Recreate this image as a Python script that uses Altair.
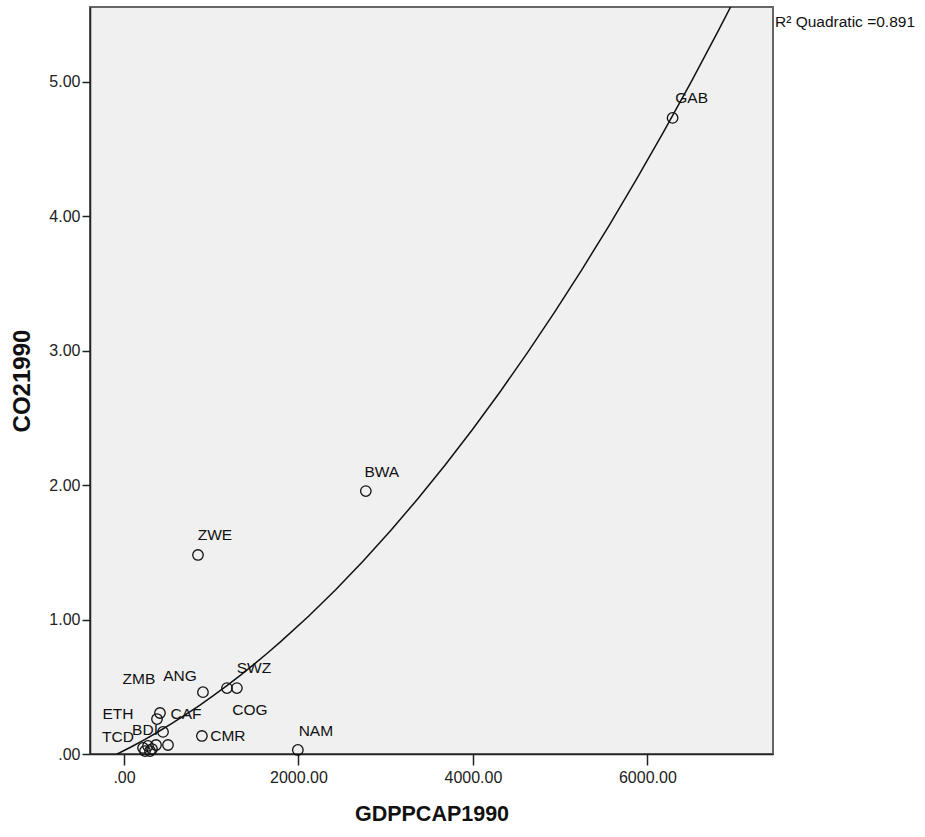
import altair as alt
import pandas as pd

# Country codes, GDP per capita (1990) and CO2 per capita (1990)
codes = ["GAB", "BWA", "ZWE", "NAM", "SWZ", "COG", "ANG", "CMR", "ZMB", "CAF",
         "ETH", "TCD", "BDI", "", "", "", "", ""]
gdppcap1990 = [6289, 2772, 848, 1993, 1294, 1180, 905, 893, 412, 447,
               218, 241, 321, 378, 504, 275, 367, 298]
co21990 = [4.73, 1.955, 1.48, 0.03, 0.49, 0.49, 0.46, 0.134, 0.305, 0.164,
           0.045, 0.022, 0.037, 0.26, 0.067, 0.06, 0.067, 0.022]

r2_text = "R\u00b2 Quadratic =0.891"

df = pd.DataFrame({"code": codes, "GDPPCAP1990": gdppcap1990, "CO21990": co21990})

FONT = "Liberation Sans"
W, H = 683, 747
x_dom = [-390, 7440]
y_dom = [0, 5.555]

x_enc = alt.X("GDPPCAP1990:Q",
              scale=alt.Scale(domain=x_dom, nice=False, zero=False),
              axis=alt.Axis(values=[0, 2000, 4000, 6000],
                            labelExpr="datum.value == 0 ? '.00' : format(datum.value, '.2f')",
                            title="GDPPCAP1990", titlePadding=18, labelPadding=4,
                            tickSize=11, titleFontSize=21.5))
y_enc = alt.Y("CO21990:Q",
              scale=alt.Scale(domain=y_dom, nice=False),
              axis=alt.Axis(values=[0, 1, 2, 3, 4, 5],
                            labelExpr="datum.value == 0 ? '.00' : format(datum.value, '.2f')",
                            title="CO21990", titlePadding=14, labelPadding=2,
                            tickSize=8, titleFontSize=24))

base = alt.Chart(df)

points = base.mark_point(shape="circle", filled=False, color="#111",
                         size=110, strokeWidth=1.3, opacity=1).encode(x=x_enc, y=y_enc)

fit = base.transform_regression(
    "GDPPCAP1990", "CO21990", method="poly", order=2, extent=x_dom
).mark_line(color="#111", strokeWidth=1.5, clip=True).encode(
    x=alt.X("GDPPCAP1990:Q", scale=alt.Scale(domain=x_dom, nice=False, zero=False)),
    y=alt.Y("CO21990:Q", scale=alt.Scale(domain=y_dom, nice=False)),
)

# label placement (pixel offsets from each circle)
label_offsets = {
    "GAB": (19, -20), "BWA": (16, -19), "ZWE": (17, -20), "NAM": (18, -19),
    "SWZ": (17, -20), "COG": (23, 22), "ANG": (-23, -16), "ZMB": (-21, -34),
    "CAF": (23, -18), "CMR": (26, 0), "ETH": (-25, -34), "TCD": (-27, -14),
    "BDI": (-7, -19),
}

label_layers = []
for c, (dx, dy) in label_offsets.items():
    label_layers.append(
        base.transform_filter(alt.datum.code == c)
        .mark_text(font=FONT, fontSize=15.5, color="#111", dx=dx, dy=dy,
                   align="center", baseline="middle")
        .encode(x="GDPPCAP1990:Q", y="CO21990:Q", text="code:N")
    )

r2 = alt.Chart(pd.DataFrame({"t": [r2_text]})).mark_text(
    font=FONT, fontSize=15.5, color="#111", align="left", baseline="middle", clip=False
).encode(x=alt.value(W + 2), y=alt.value(15), text="t:N")

chart = alt.layer(fit, points, *label_layers, r2).properties(
    width=W, height=H,
    autosize=alt.AutoSizeParams(type="none"),
    padding={"left": 90, "top": 7, "right": 925 - 90 - W, "bottom": 837 - 7 - H},
    background="white",
).configure_view(
    fill="#f0f0f0", stroke="#666", strokeWidth=2
).configure_axis(
    labelFont=FONT, labelFontSize=16, labelColor="#222",
    titleFont=FONT, titleFontWeight="bold", titleColor="#111",
    domainColor="#222", tickColor="#222", domainWidth=1.5, tickWidth=1.5, grid=False,
)

chart.save("out.html", embed_options={"renderer": "svg", "actions": False})
